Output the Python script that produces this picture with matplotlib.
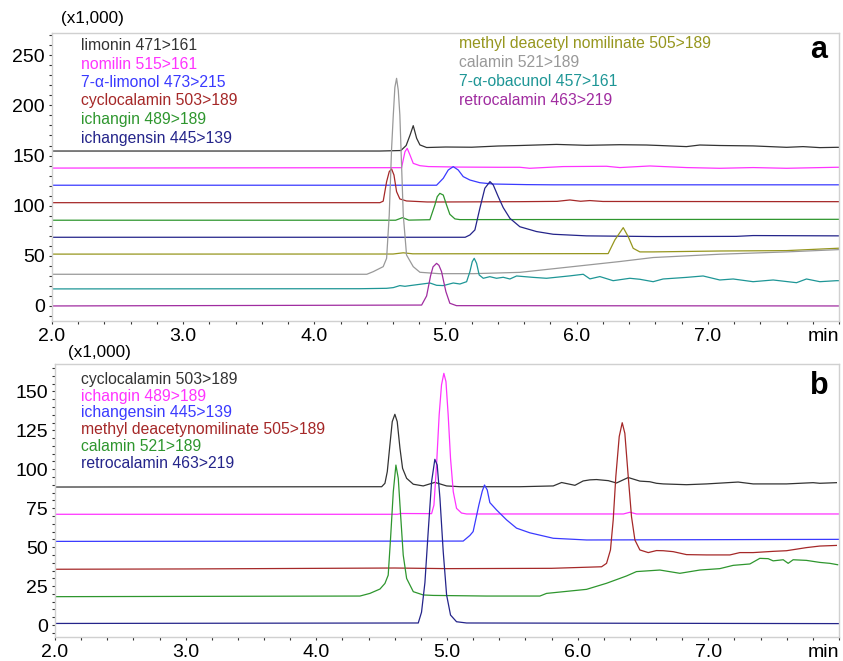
import numpy as np
import matplotlib.pyplot as plt
from matplotlib.ticker import MultipleLocator

plt.rcParams['font.family'] = ['Liberation Sans', 'DejaVu Sans']

# ---------- panel a : (time in min, intensity x1000) ----------
a_limonin_t = [2.0, 4.5, 4.66, 4.70, 4.73, 4.754, 4.78, 4.805, 4.856, 5.0, 5.2, 5.4, 5.567, 5.846, 6.075,
               6.329, 6.532, 6.634, 6.837, 6.939, 7.091, 7.345, 7.6, 7.726, 7.854, 7.98, 8.0]
a_limonin_v = [154.5, 154.5, 155.0, 160.0, 170.5, 179.8, 167.2, 160.6, 158.0, 158.5, 158.3, 159.5, 160.0, 161.1, 160.2,
               160.8, 160.5, 160.0, 158.9, 160.5, 160.0, 159.6, 158.2, 158.9, 157.9, 158.2, 158.2]

a_nomilin_t = [2.0, 4.665, 4.691, 4.708, 4.729, 4.754, 4.805, 4.87, 5.1, 5.4, 5.567, 5.643, 5.897, 6.228,
               6.329, 6.558, 6.837, 7.091, 7.345, 7.6, 7.98, 8.0]
a_nomilin_v = [137.5, 137.9, 153.8, 157.2, 150.6, 142.2, 139.9, 139.0, 138.5, 138.3, 138.3, 137.3, 139.0, 139.3,
               138.0, 139.6, 138.0, 137.3, 138.0, 137.3, 138.3, 138.3]

a_limonol_t = [2.0, 4.932, 4.983, 5.021, 5.059, 5.097, 5.135, 5.186, 5.262, 5.364, 5.618, 5.82, 8.0]
a_limonol_v = [120.4, 120.4, 127.3, 135.6, 138.9, 135.6, 129.0, 125.6, 122.9, 121.6, 121.0, 120.8, 120.8]

a_cyclo_t = [2.0, 4.50, 4.525, 4.551, 4.571, 4.589, 4.607, 4.627, 4.652, 4.703, 4.86, 5.0, 5.567, 5.85,
             5.948, 6.03, 6.1, 6.2, 8.0]
a_cyclo_v = [103.0, 103.0, 104.5, 123.9, 133.9, 136.6, 130.6, 114.0, 106.7, 104.7, 103.7, 103.7, 104.0, 104.3,
             105.7, 104.4, 105.1, 104.2, 104.0]

a_ichangin_t = [2.0, 4.62, 4.673, 4.72, 4.881, 4.919, 4.937, 4.957, 4.983, 5.008, 5.033, 5.072, 5.11, 8.0]
a_ichangin_v = [85.5, 85.5, 88.1, 85.6, 86.0, 100.7, 109.0, 112.3, 110.6, 100.7, 91.4, 86.8, 86.1, 86.4]

a_ichangensin_t = [2.0, 5.15, 5.186, 5.224, 5.262, 5.300, 5.339, 5.364, 5.402, 5.440, 5.491, 5.567, 5.694,
                   5.821, 6.075, 6.6, 7.218, 7.345, 8.0]
a_ichangensin_v = [68.5, 68.5, 70.8, 75.8, 97.4, 117.4, 124.0, 120.7, 109.0, 98.1, 87.4, 79.0, 74.2,
                   71.5, 69.9, 69.2, 69.4, 70.2, 69.9]

a_methyl_t = [2.0, 4.6, 4.678, 4.75, 6.24, 6.291, 6.355, 6.393, 6.431, 6.482, 6.58, 7.091, 7.6, 8.0]
a_methyl_v = [51.7, 51.8, 53.0, 52.0, 52.2, 65.8, 78.1, 69.1, 57.5, 53.9, 53.9, 54.8, 55.2, 57.6]

a_calamin_t = [2.0, 4.40, 4.449, 4.525, 4.551, 4.571, 4.589, 4.602, 4.614, 4.627, 4.64, 4.652, 4.678, 4.703,
               4.754, 4.805, 4.95, 5.211, 5.567, 6.329, 6.583, 7.091, 7.6, 8.0]
a_calamin_v = [31.6, 31.6, 34.2, 39.2, 47.5, 90.7, 157.0, 190.4, 218.0, 227.0, 215.0, 190.4, 90.7, 50.8,
               39.2, 33.6, 32.2, 32.2, 33.5, 44.3, 48.3, 51.6, 53.9, 56.2]

a_obacunol_t = [2.0, 4.348, 4.551, 4.602, 4.652, 4.691, 4.729, 4.805, 4.881, 4.932, 4.983, 5.059, 5.110,
                5.161, 5.186, 5.204, 5.219, 5.237, 5.257, 5.288, 5.338, 5.389, 5.44, 5.491, 5.542,
                5.669, 5.770, 5.948, 6.050, 6.101, 6.177, 6.278, 6.405, 6.482, 6.583, 6.659, 6.837,
                6.964, 7.091, 7.193, 7.345, 7.498, 7.676, 7.752, 7.854, 7.98, 8.0]
a_obacunol_v = [17.0, 17.2, 17.6, 18.3, 20.3, 19.6, 20.3, 21.6, 22.9, 20.6, 20.3, 22.9, 21.9,
                24.2, 34.2, 44.2, 47.5, 42.5, 30.9, 27.6, 29.2, 27.6, 28.6, 26.9, 29.9,
                28.5, 27.6, 30.0, 31.6, 27.0, 29.3, 25.2, 27.6, 26.6, 24.2, 26.9, 28.5,
                29.9, 25.9, 26.9, 24.2, 25.9, 23.2, 26.9, 24.2, 25.2, 25.2]

a_retro_t = [2.0, 4.818, 4.856, 4.886, 4.905, 4.932, 4.95, 4.97, 4.985, 5.003, 5.033, 5.084, 8.0]
a_retro_v = [0.0, 0.9, 10.0, 30.0, 39.0, 42.5, 40.5, 34.2, 25.0, 14.3, 2.7, 0.3, 0.0]

# ---------- panel b ----------
b_cyclo_t = [2.0, 4.50, 4.525, 4.543, 4.563, 4.581, 4.601, 4.619, 4.64, 4.66, 4.691, 4.742, 4.818, 4.907,
             4.997, 5.1, 5.558, 5.813, 5.877, 5.928, 5.979, 6.042, 6.093, 6.144, 6.234, 6.297, 6.387,
             6.476, 6.552, 6.603, 6.655, 6.833, 6.986, 7.228, 7.343, 7.598, 7.802, 7.853, 7.98]
b_cyclo_v = [88.6, 88.8, 91.0, 98.5, 115.6, 130.6, 135.3, 130.6, 113.5, 100.6, 94.2, 90.4, 89.3, 91.6,
             89.3, 88.8, 88.8, 89.3, 91.5, 90.6, 89.7, 92.5, 93.2, 93.4, 92.7, 91.2, 94.7,
             92.4, 92.0, 91.0, 90.6, 90.1, 90.6, 91.8, 90.6, 90.6, 91.4, 91.0, 91.4]

b_ichangin_t = [2.0, 4.62, 4.65, 4.882, 4.90, 4.92, 4.94, 4.958, 4.976, 4.992, 5.009, 5.027, 5.048, 5.073,
                5.111, 5.150, 6.35, 6.40, 6.45, 8.0]
b_ichangin_v = [71.1, 71.1, 71.6, 71.5, 77.0, 102.7, 134.9, 154.2, 161.6, 156.3, 134.9, 107.0, 85.6, 74.9,
                71.9, 71.3, 71.3, 72.4, 71.3, 71.3]

b_ichangensin_t = [2.0, 5.124, 5.175, 5.20, 5.244, 5.270, 5.287, 5.308, 5.328, 5.379, 5.456, 5.532, 5.634,
                   5.813, 6.068, 8.0]
b_ichangensin_v = [53.7, 53.9, 57.5, 60.0, 77.1, 86.0, 89.9, 86.7, 78.6, 73.9, 67.5, 62.2, 59.2,
                   55.7, 54.6, 55.0]

b_methyl_t = [2.0, 3.0, 4.6, 5.0, 5.8, 6.183, 6.221, 6.251, 6.272, 6.292, 6.318, 6.341, 6.361, 6.387,
              6.412, 6.438, 6.476, 6.54, 6.603, 6.655, 6.731, 6.833, 6.986, 7.165, 7.241, 7.343,
              7.496, 7.598, 7.751, 7.853, 7.98]
b_methyl_v = [35.8, 36.0, 36.6, 36.2, 36.4, 37.4, 39.6, 48.2, 67.5, 95.3, 121.0, 129.9, 123.1, 95.3,
              69.6, 54.6, 48.2, 46.5, 47.8, 47.7, 47.1, 45.2, 45.0, 45.0, 46.5, 46.5,
              47.3, 47.7, 49.7, 50.7, 51.1]

b_calamin_t = [2.0, 4.334, 4.41, 4.487, 4.525, 4.55, 4.568, 4.589, 4.609, 4.627, 4.645, 4.665, 4.691,
               4.742, 4.818, 4.895, 5.3, 5.711, 5.762, 6.068, 6.221, 6.374, 6.45, 6.629, 6.782, 6.935,
               7.088, 7.19, 7.318, 7.394, 7.458, 7.496, 7.573, 7.611, 7.649, 7.751, 7.853, 7.93, 7.99]
b_calamin_v = [18.2, 18.6, 20.3, 23.1, 26.7, 32.0, 55.6, 85.6, 102.7, 94.2, 70.6, 44.9, 29.9,
               21.4, 19.3, 19.0, 18.6, 18.6, 20.3, 22.9, 26.8, 31.5, 34.3, 35.3, 33.2, 35.3,
               36.2, 38.3, 39.2, 42.8, 42.6, 41.2, 41.9, 39.6, 41.9, 41.5, 40.2, 39.6, 38.7]

b_retro_t = [2.0, 4.78, 4.805, 4.831, 4.856, 4.882, 4.907, 4.925, 4.946, 4.971, 4.997, 5.027, 5.073,
             5.15, 8.0]
b_retro_v = [1.0, 1.3, 8.2, 27.2, 59.8, 92.0, 106.4, 102.7, 81.4, 47.2, 19.3, 6.4, 2.1,
             1.3, 0.9]

a_labels = ['limonin 471>161', 'nomilin 515>161', '7-\u03b1-limonol 473>215', 'cyclocalamin 503>189',
            'ichangin 489>189', 'ichangensin 445>139',
            'methyl deacetyl nomilinate 505>189', 'calamin 521>189', '7-\u03b1-obacunol 457>161',
            'retrocalamin 463>219']
b_labels = ['cyclocalamin 503>189', 'ichangin 489>189', 'ichangensin 445>139',
            'methyl deacetynomilinate 505>189', 'calamin 521>189', 'retrocalamin 463>219']
xtick_labels = ['2.0', '3.0', '4.0', '5.0', '6.0', '7.0', 'min']

black = '#333333'
magenta = '#ff33ff'
blue = '#3a3aff'
darkred = '#a52828'
green = '#2e962e'
navy = '#24248a'
olive = '#96961e'
gray = '#999999'
teal = '#1e9696'
purple = '#a02ca0'

a_series = [(a_limonin_t, a_limonin_v, black), (a_nomilin_t, a_nomilin_v, magenta),
            (a_limonol_t, a_limonol_v, blue), (a_cyclo_t, a_cyclo_v, darkred),
            (a_ichangin_t, a_ichangin_v, green), (a_ichangensin_t, a_ichangensin_v, navy),
            (a_methyl_t, a_methyl_v, olive), (a_calamin_t, a_calamin_v, gray),
            (a_obacunol_t, a_obacunol_v, teal), (a_retro_t, a_retro_v, purple)]
b_series = [(b_cyclo_t, b_cyclo_v, black), (b_ichangin_t, b_ichangin_v, magenta),
            (b_ichangensin_t, b_ichangensin_v, blue), (b_methyl_t, b_methyl_v, darkred),
            (b_calamin_t, b_calamin_v, green), (b_retro_t, b_retro_v, navy)]

W, H = 843, 661
fig = plt.figure(figsize=(W / 100, H / 100), dpi=100)


def px_axes(l, t, r, b):
    return fig.add_axes([l / W, 1 - b / H, (r - l) / W, (b - t) / H])


def style(ax, ymin, ymax, major, minor):
    ax.set_xlim(2.0, 8.0)
    ax.set_ylim(ymin, ymax)
    ax.xaxis.set_major_locator(MultipleLocator(1.0))
    ax.xaxis.set_minor_locator(MultipleLocator(0.2))
    ax.yaxis.set_major_locator(MultipleLocator(major))
    ax.yaxis.set_minor_locator(MultipleLocator(minor))
    ax.set_xticks([2, 3, 4, 5, 6, 7, 8])
    ax.set_xticklabels(xtick_labels)
    ax.get_xticklabels()[-1].set_ha('right')
    for s in ax.spines.values():
        s.set_color('#d0d0d0')
        s.set_linewidth(1.0)
    ax.tick_params(which='both', direction='out', length=2.5, width=0.8, color='#333333',
                   labelsize=14, top=False, right=False)
    ax.tick_params(axis='x', pad=2.5)
    ax.tick_params(axis='y', pad=2.5)


ax1 = px_axes(52, 33, 839, 321)
for t, v, c in a_series:
    ax1.plot(t, v, color=c, lw=0.9)
style(ax1, -15, 272.2, 50, 10)

ax2 = px_axes(55, 364, 839, 637)
for t, v, c in b_series:
    ax2.plot(t, v, color=c, lw=0.9)
style(ax2, -7.7, 167.6, 25, 5)

# multiplier labels
fig.text(61 / W, 1 - 18 / H, '(x1,000)', fontsize=12.3, va='center')
fig.text(68 / W, 1 - 352 / H, '(x1,000)', fontsize=12.3, va='center')

# trace labels
a_text_pos = [(81, 45), (81, 64.3), (81, 82.3), (81, 100), (81, 119.3), (81, 138.3),
              (459, 43.5), (459, 62.5), (459, 81.5), (459, 100.5)]
for (x, y), lab, s in zip(a_text_pos, a_labels, a_series):
    fig.text(x / W, 1 - y / H, lab, color=s[2], fontsize=11.3, va='center')

b_text_pos = [(81, 379), (81, 396.5), (81, 412.5), (81, 429.5), (81, 446.5), (81, 463)]
for (x, y), lab, s in zip(b_text_pos, b_labels, b_series):
    fig.text(x / W, 1 - y / H, lab, color=s[2], fontsize=11.3, va='center')

fig.text(819 / W, 1 - 50 / H, 'a', fontsize=22, fontweight='bold', ha='center', va='center')
fig.text(819 / W, 1 - 386 / H, 'b', fontsize=22, fontweight='bold', ha='center', va='center')

fig.savefig('out.png', dpi=100)
